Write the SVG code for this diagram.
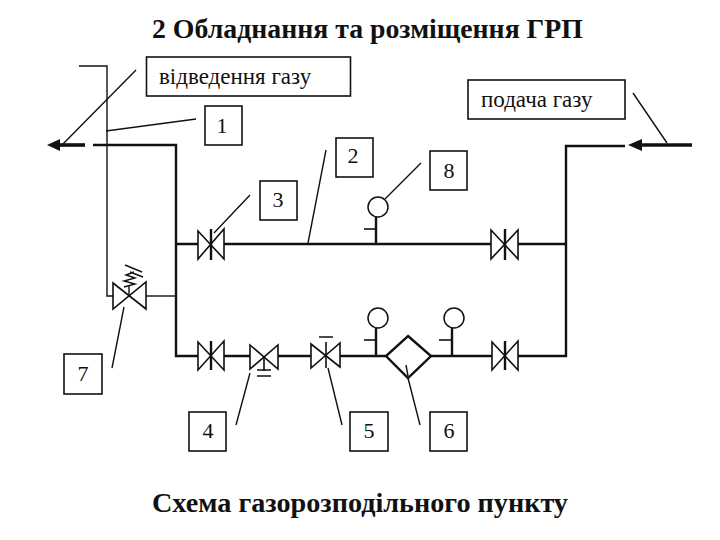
<svg xmlns="http://www.w3.org/2000/svg" width="720" height="540" viewBox="0 0 720 540">
<defs>
<style>
text{font-family:"Liberation Serif","Times New Roman",serif;fill:#111}
.h{font-size:27.800px;font-weight:bold}
.c{font-size:28.200px;font-weight:bold}
.l{font-size:23px}
.n{font-size:22px;text-anchor:middle}
.b{fill:#fff;stroke:#111;stroke-width:1.6}
.p{fill:none;stroke:#111;stroke-width:2.4}
.t{fill:none;stroke:#111;stroke-width:1.4}
.v{fill:none;stroke:#111;stroke-width:1.6}
.g{fill:#fff;stroke:#111;stroke-width:1.5}
.f{fill:#fff;stroke:#111;stroke-width:2.4}
.a{fill:#111;stroke:none}
.w{fill:none;stroke:#111;stroke-width:3.600}
</style>
</defs>
<rect width="720" height="540" fill="#fff"/>
<text class="h" x="152" y="38">2 Обладнання та розміщення ГРП</text>
<text class="c" x="152" y="511.500">Схема газорозподільного пункту</text>
<g id="connectors">
<path class="t" d="M79 66H107V296H114"/>
<path class="t" d="M146 296H176"/>
<path class="p" d="M93 145H176V356H198M224 356H250M278 356H311M340 356H386M431 356H492M518 356H566V146H625"/>
<path class="p" d="M176 244H198M224 244H491M518 244H566"/>
<path class="w" d="M85 145H56"/>
<path class="a" d="M47 145L60 139V151Z"/>
<path class="w" d="M692 145H640"/>
<path class="a" d="M628 145L642 139V151Z"/>
<path class="t" d="M136 70L62 145M106 131L196 119M326 150L308 243M250 195L214 233M421 163L385 199M633 93L667 143M124 307L112 368M250 373L236 425M328 368L342 425M408 378L420 425"/>
</g>
<g id="valve-top-left"><path class="v" d="M198 231L224 259V229L198 259Z"/><path class="p" d="M211 229V260"/></g>
<g id="valve-top-right"><path class="v" d="M491 230L518 259V230L491 259Z"/><path class="p" d="M505 229V260"/></g>
<g id="valve-bottom-left"><path class="v" d="M198 342L224 370V341L198 370Z"/><path class="p" d="M211 341V370"/></g>
<g id="valve-bottom-right"><path class="v" d="M492 342L518 370V341L492 370Z"/><path class="p" d="M505 341V370"/></g>
<g id="valve-4"><path class="v" d="M250 345L278 369V345L250 369Z"/><path class="v" d="M264 356V371M257 370H271M257 376H271"/></g>
<g id="valve-5"><path class="v" d="M311 344L340 367V343L311 368Z"/><path class="v" d="M326 342V368M319 337H333"/></g>
<g id="valve-7"><path class="v" d="M113 283L146 309V282L113 309Z"/><path class="t" d="M129 296V286M124 287L135 284L124 281L135 278L126 275L134 272M125 265L142 272M130 272L143 277"/></g>
<g id="filter"><path class="f" d="M408 336L431 356L408 378L386 356Z"/><path class="t" d="M406 365L408 376"/></g>
<g id="gauge-8"><path class="p" d="M376 216V244"/><path class="v" d="M364 229H376"/><circle class="g" cx="378" cy="207" r="10"/></g>
<g id="gauge-left"><path class="p" d="M376 328V356"/><path class="v" d="M364 340H376"/><circle class="g" cx="378" cy="318" r="10"/></g>
<g id="gauge-right"><path class="p" d="M452 328V356"/><path class="v" d="M439 340H452"/><circle class="g" cx="454" cy="318" r="10"/></g>
<g id="label-out"><rect class="b" x="146.500" y="57" width="204" height="39"/><text class="l" x="159" y="84">відведення газу</text></g>
<g id="label-in"><rect class="b" x="468" y="80" width="157" height="39"/><text class="l" x="481" y="107">подача газу</text></g>
<g id="n1"><rect class="b" x="205" y="106" width="37" height="39"/><text class="n" x="222" y="133">1</text></g>
<g id="n2"><rect class="b" x="336" y="138" width="37" height="39"/><text class="n" x="353" y="163">2</text></g>
<g id="n3"><rect class="b" x="260" y="181" width="37" height="39"/><text class="n" x="278" y="207">3</text></g>
<g id="n8"><rect class="b" x="430" y="151" width="37" height="39"/><text class="n" x="449" y="178">8</text></g>
<g id="n7"><rect class="b" x="64" y="354" width="38" height="40"/><text class="n" x="83" y="381">7</text></g>
<g id="n4"><rect class="b" x="189" y="412" width="37" height="39"/><text class="n" x="208" y="438">4</text></g>
<g id="n5"><rect class="b" x="350" y="412" width="38" height="39"/><text class="n" x="369" y="438">5</text></g>
<g id="n6"><rect class="b" x="430" y="412" width="37" height="39"/><text class="n" x="449" y="438">6</text></g>
</svg>
